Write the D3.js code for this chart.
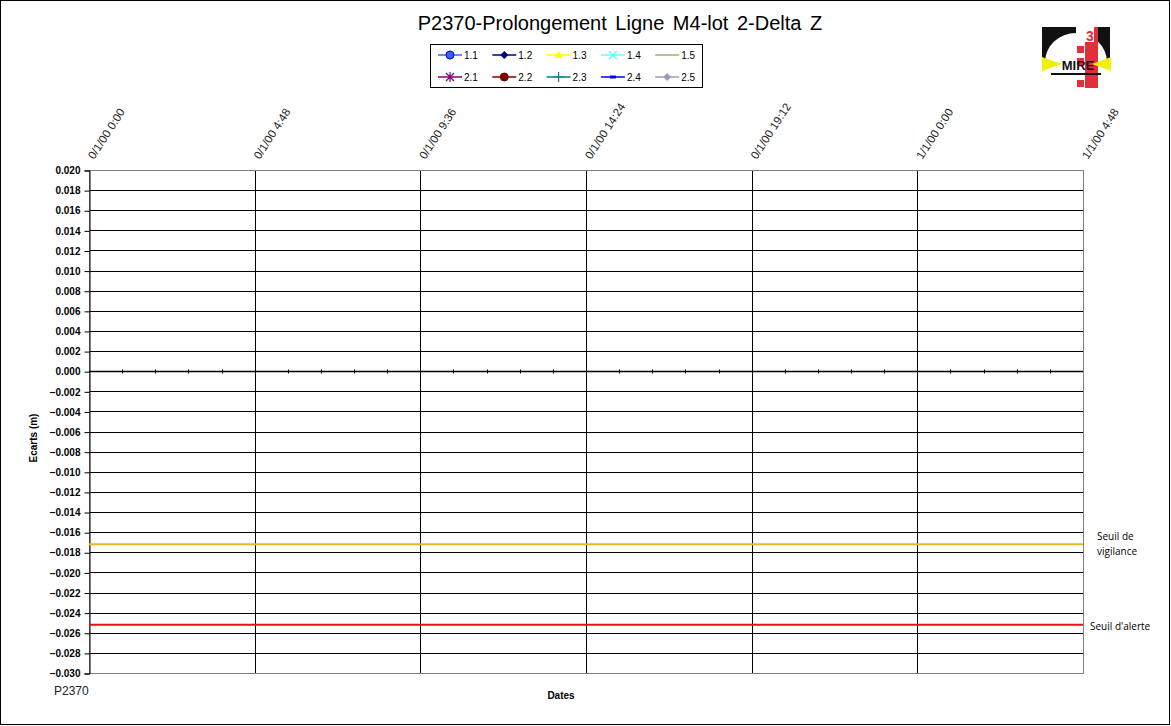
<!DOCTYPE html>
<html><head><meta charset="utf-8">
<script src="https://cdn.jsdelivr.net/npm/d3@7"></script>
<style>body{margin:0;background:#fff}svg{display:block}</style>
</head><body><svg id="c" width="1171" height="726"></svg>
<script>
// ---- data ----
const title = "P2370-Prolongement Ligne M4-lot 2-Delta Z";
const seriesNames = ["1.1","1.2","1.3","1.4","1.5","2.1","2.2","2.3","2.4","2.5"];
const seriesColors = ["#3366FF","#000080","#FFFF00","#66FFFF","#A0B070","#800080","#800000","#008080","#0000FF","#A09CB8"];
const seriesSymbols = ["circle","diamond","triangle","x","none","asterisk","circle","plus","dash","diamond"];
const seriesValues = [[],[],[],[],[],[],[],[],[],[]]; // no measurements plotted
const xTickHours = [0, 4.8, 9.6, 14.4, 19.2, 24, 28.8];
const xTickLabels = ["0/1/00 0:00","0/1/00 4:48","0/1/00 9:36","0/1/00 14:24","0/1/00 19:12","1/1/00 0:00","1/1/00 4:48"];
const yTicks = d3.range(-0.030, 0.0201, 0.002).map(v => +v.toFixed(3));
const thresholdNames = ["Seuil de vigilance","Seuil d'alerte"];
const thresholdValues = [-0.0172, -0.0252];
const thresholdColors = ["#E8B820","#E81010"];

const svg = d3.select("#c");
const W = 1171, H = 726;
svg.append("rect").attr("x",0.5).attr("y",0.5).attr("width",W-2).attr("height",H-2).attr("fill","#fff").attr("stroke","#000");

const m = {l:89, r:1083, t:170, b:673};
const x = d3.scaleLinear().domain([0, 28.8]).range([m.l, m.r]);
const y = d3.scaleLinear().domain([-0.030, 0.020]).range([m.b, m.t]);
const F = "Liberation Sans, Arial";

// title
svg.append("text").attr("x",620).attr("y",30).attr("text-anchor","middle")
  .attr("font-family",F).attr("font-size",20).attr("word-spacing",3).text(title);

// horizontal grid
const g = svg.append("g");
g.selectAll("line.h").data(yTicks.filter(v => v > -0.0299 && v < 0.0199)).join("line")
  .attr("x1",m.l).attr("x2",m.r).attr("y1",d=>Math.round(y(d))+0.5).attr("y2",d=>Math.round(y(d))+0.5)
  .attr("stroke","#000").attr("stroke-width",1);
// vertical grid
g.selectAll("line.v").data(xTickHours.slice(1,-1)).join("line")
  .attr("x1",d=>Math.round(x(d))+0.5).attr("x2",d=>Math.round(x(d))+0.5).attr("y1",m.t).attr("y2",m.b)
  .attr("stroke","#000");
// plot border
svg.append("rect").attr("x",m.l+0.5).attr("y",m.t+0.5).attr("width",m.r-m.l).attr("height",m.b-m.t)
  .attr("fill","none").attr("stroke","#808080");

// y axis
const yAxis = d3.axisLeft(y).tickValues(yTicks).tickSize(5).tickFormat(d3.format(".3f"));
const ya = svg.append("g").attr("transform",`translate(${m.l+0.5},0.5)`).call(yAxis);
ya.select(".domain").attr("stroke","#000");
ya.selectAll(".tick line").attr("stroke","#000");
ya.selectAll("text").attr("font-family",F).attr("font-weight","bold").attr("font-size",10).attr("fill","#000").attr("dx",-1);

// x axis at zero with minor ticks
const y0 = Math.round(y(0))+0.5;
svg.append("line").attr("x1",m.l).attr("x2",m.r).attr("y1",y0).attr("y2",y0).attr("stroke","#000").attr("stroke-width",1.5);
const minor = d3.range(0, 28.81, 0.96).filter((d,i)=> i%5!==0);
svg.selectAll("line.mn").data(minor).join("line")
  .attr("x1",d=>Math.round(x(d))+0.5).attr("x2",d=>Math.round(x(d))+0.5).attr("y1",y0-2).attr("y2",y0+2).attr("stroke","#000");

// x tick labels
svg.selectAll("text.xl").data(xTickHours).join("text")
  .attr("transform",(d)=>`translate(${x(d)+5},${160}) rotate(-57)`)
  .attr("font-family",F).attr("font-size",11.5).attr("fill","#222")
  .text((d,i)=>xTickLabels[i]);

// thresholds
thresholdValues.forEach((v,i)=>{
  svg.append("line").attr("x1",m.l).attr("x2",m.r).attr("y1",y(v)).attr("y2",y(v))
    .attr("stroke",thresholdColors[i]).attr("stroke-width",2);
});
const tf = "Open Sans, Liberation Sans, Arial";
svg.append("text").attr("x",1097).attr("y",540).attr("font-family",tf).attr("font-size",10).text("Seuil de");
svg.append("text").attr("x",1097).attr("y",555).attr("font-family",tf).attr("font-size",10).text("vigilance");
svg.append("text").attr("x",1090).attr("y",630).attr("font-family",tf).attr("font-size",10).text(thresholdNames[1]);

// series (empty)
const line = d3.line().x(d=>x(d[0])).y(d=>y(d[1]));
seriesValues.forEach((vals,i)=>{
  if (vals.length) svg.append("path").attr("d",line(vals)).attr("fill","none").attr("stroke",seriesColors[i]);
});

// axis titles
svg.append("text").attr("transform","translate(37,438) rotate(-90)").attr("text-anchor","middle")
  .attr("font-family",F).attr("font-weight","bold").attr("font-size",10).text("Ecarts (m)");
svg.append("text").attr("x",561).attr("y",699).attr("text-anchor","middle")
  .attr("font-family",F).attr("font-weight","bold").attr("font-size",10).text("Dates");
svg.append("text").attr("x",54).attr("y",695)
  .attr("font-family",F).attr("font-size",12).attr("fill","#222").text("P2370");

// legend
const lg = svg.append("g");
lg.append("rect").attr("x",430.5).attr("y",44.5).attr("width",272).attr("height",43).attr("fill","#fff").attr("stroke","#000");
seriesNames.forEach((n,i)=>{
  const col = i%5, row = Math.floor(i/5);
  const lx = 438 + col*54.3, ly = 55 + row*22;
  const c = seriesColors[i];
  lg.append("line").attr("x1",lx).attr("x2",lx+24).attr("y1",ly).attr("y2",ly).attr("stroke",c).attr("stroke-width",1.5);
  const cx = lx+12, s = seriesSymbols[i];
  if (s==="circle") lg.append("circle").attr("cx",cx).attr("cy",ly).attr("r",4).attr("fill",c).attr("stroke",i===0?"#0000CC":c);
  else if (s==="diamond") lg.append("path").attr("d",`M${cx},${ly-4}L${cx+4},${ly}L${cx},${ly+4}L${cx-4},${ly}Z`).attr("fill",c);
  else if (s==="triangle") lg.append("path").attr("d",`M${cx},${ly-4}L${cx+4},${ly+3}L${cx-4},${ly+3}Z`).attr("fill",c);
  else if (s==="x") lg.append("path").attr("d",`M${cx-4},${ly-4}L${cx+4},${ly+4}M${cx-4},${ly+4}L${cx+4},${ly-4}`).attr("stroke",c).attr("stroke-width",1.5);
  else if (s==="asterisk") lg.append("path").attr("d",`M${cx-4},${ly-4}L${cx+4},${ly+4}M${cx-4},${ly+4}L${cx+4},${ly-4}M${cx},${ly-5}L${cx},${ly+5}`).attr("stroke",c).attr("stroke-width",1.2);
  else if (s==="plus") lg.append("path").attr("d",`M${cx-5},${ly}L${cx+5},${ly}M${cx},${ly-5}L${cx},${ly+5}`).attr("stroke",c).attr("stroke-width",1.2);
  else if (s==="dash") lg.append("rect").attr("x",cx-3).attr("y",ly-1.5).attr("width",6).attr("height",3).attr("fill",c);
  lg.append("text").attr("x",lx+26).attr("y",ly+4).attr("font-family",F).attr("font-size",10).attr("fill","#000").text(n);
});

// logo
const lo = svg.append("g");
lo.append("rect").attr("x",1042).attr("y",27).attr("width",68).attr("height",35).attr("fill","#111");
lo.append("path").attr("d","M1045,62 A31,29 0 0 1 1107,62 Z").attr("fill","#fff");
lo.append("rect").attr("x",1042).attr("y",62).attr("width",68).attr("height",29).attr("fill","#fff");
lo.append("rect").attr("x",1076).attr("y",27).attr("width",9).attr("height",61).attr("fill","#fff");
lo.append("rect").attr("x",1085).attr("y",27).attr("width",13).attr("height",61).attr("fill","#E0303A");
lo.append("rect").attr("x",1085).attr("y",27).attr("width",9).attr("height",15).attr("fill","#fff");
[[1077,46],[1077,58],[1077,80]].forEach(p=>{
  lo.append("rect").attr("x",p[0]).attr("y",p[1]).attr("width",7).attr("height",7).attr("fill","#E0303A");
});
lo.append("text").attr("x",1086).attr("y",41).attr("font-family",F).attr("font-weight","bold").attr("font-size",14).attr("fill","#E0303A").text("3");
lo.append("path").attr("d","M1042,57 L1062,64 L1042,71 Z").attr("fill","#F2EE10");
lo.append("path").attr("d","M1111,57 L1092,64 L1111,71 Z").attr("fill","#F2EE10");
lo.append("text").attr("x",1078).attr("y",70).attr("text-anchor","middle").attr("font-family",F).attr("font-weight","bold").attr("font-size",13).attr("fill","#111").text("MIRE");
lo.append("rect").attr("x",1051).attr("y",73).attr("width",50).attr("height",2).attr("fill","#111");
</script></body></html>
